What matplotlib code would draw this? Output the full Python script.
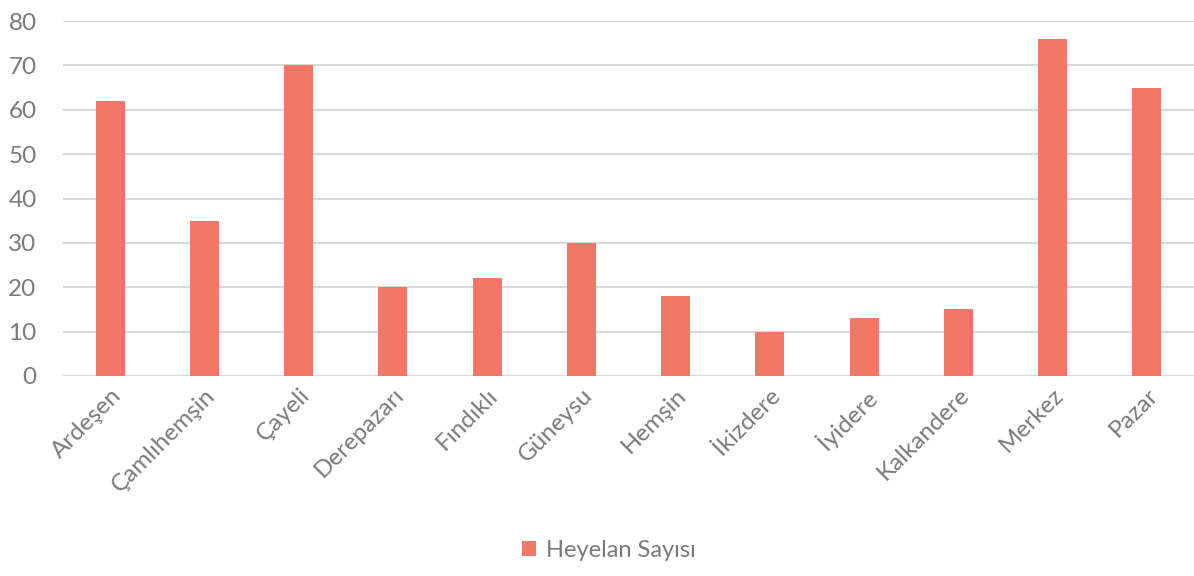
import matplotlib.pyplot as plt
import numpy as np

ilceler = ['Ardeşen', 'Çamlıhemşin', 'Çayeli', 'Derepazarı', 'Fındıklı', 'Güneysu',
           'Hemşin', 'İkizdere', 'İyidere', 'Kalkandere', 'Merkez', 'Pazar']
heyelan_sayisi = [62, 35, 70, 20, 22, 30, 18, 10, 13, 15, 76, 65]
y_ticks = [0, 10, 20, 30, 40, 50, 60, 70, 80]

bar_color = '#F37766'
text_color = '#7A7A7A'
grid_color = '#D9D9D9'

plt.rcParams['font.family'] = ['Lato', 'DejaVu Sans']

fig = plt.figure(figsize=(11.94, 5.76), dpi=100)
ax = fig.add_axes([63 / 1194, 200 / 576, 1 - 63 / 1194, 355 / 576])

x = np.arange(len(ilceler))
ax.bar(x, heyelan_sayisi, width=0.31, color=bar_color, label='Heyelan Sayısı', zorder=3)

ax.set_xlim(-0.5, len(ilceler) - 0.5)
ax.set_ylim(0, 80)
ax.set_yticks(y_ticks)
ax.yaxis.grid(True, color=grid_color, linewidth=1.5, zorder=0)
for s in ax.spines.values():
    s.set_visible(False)
ax.axhline(0, color=grid_color, linewidth=1.5, zorder=1)

ax.tick_params(axis='both', length=0, colors=text_color, labelsize=17.5)
ax.tick_params(axis='y', pad=19)
ax.tick_params(axis='x', pad=6)
ax.set_xticks(x)
ax.set_xticklabels(ilceler, rotation=45, ha='right', rotation_mode='anchor')

fig.legend(loc='lower center', bbox_to_anchor=(0.51, -0.01), frameon=False,
           fontsize=17, labelcolor=text_color, handlelength=0.6, handleheight=0.6,
           handletextpad=0.4)

fig.savefig('out.png', dpi=100)
